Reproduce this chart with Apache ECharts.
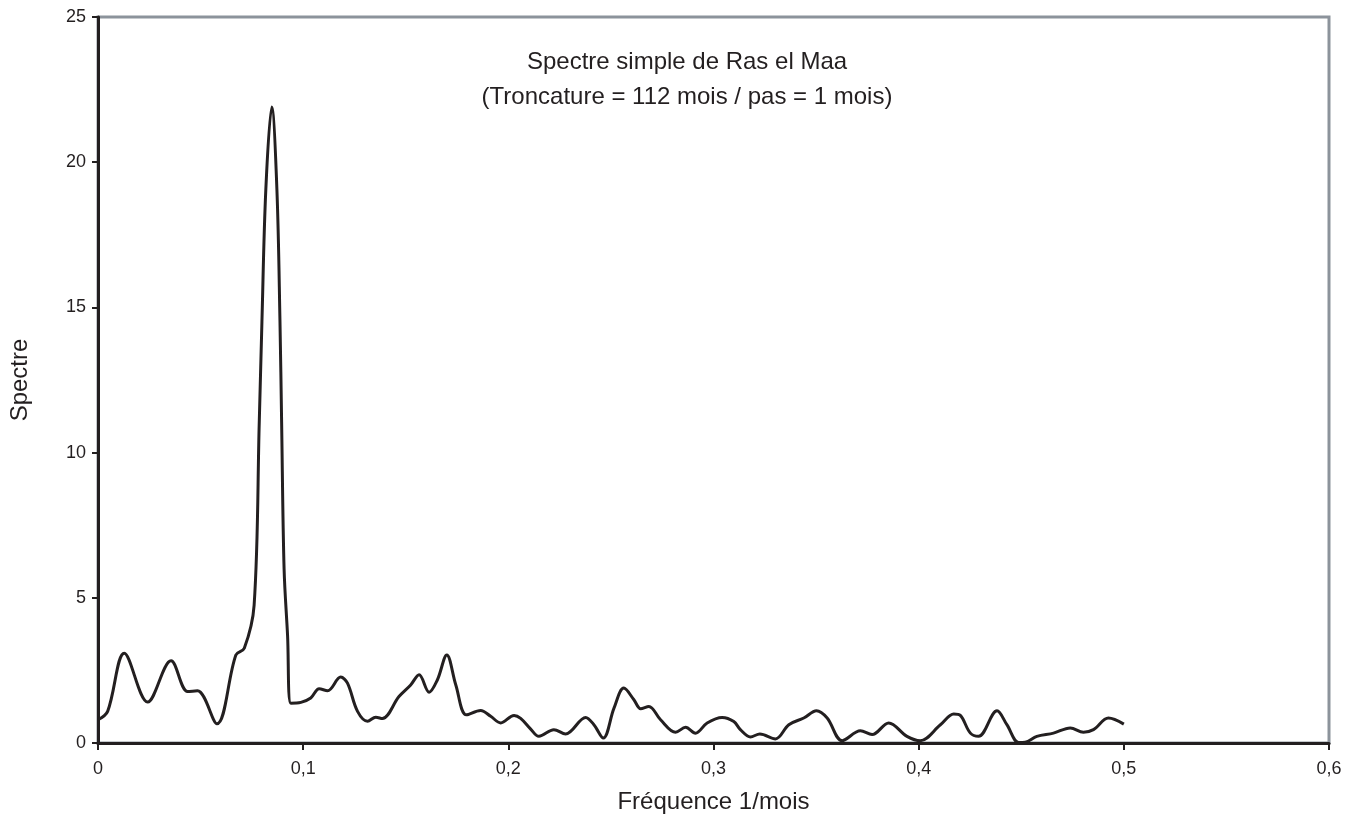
<!DOCTYPE html>
<html>
<head>
<meta charset="utf-8">
<script src="https://cdn.jsdelivr.net/npm/echarts@6/dist/echarts.min.js"></script>
<style>
  html, body { margin: 0; padding: 0; background: #fff; }
  #chart { width: 1345px; height: 819px; }
</style>
</head>
<body>
<div id="chart"></div>
<script>
// fréquence (1/mois) et valeur du spectre
const freq = [0, 0.0047, 0.0128, 0.0242, 0.0356, 0.0437, 0.0485, 0.058, 0.0672, 0.0713,
  0.0761, 0.0786, 0.0799, 0.0818, 0.0847, 0.0872, 0.0887, 0.0895, 0.0907, 0.0924, 0.094,
  0.0989, 0.1037, 0.1078, 0.1119, 0.1183, 0.1216, 0.1265, 0.1314, 0.1354, 0.1386,
  0.1467, 0.1524, 0.1565, 0.1614, 0.1654, 0.170, 0.1744, 0.1796, 0.1865, 0.1914,
  0.1963, 0.2028, 0.206, 0.2109, 0.2149, 0.2222, 0.2279, 0.2377, 0.2417, 0.2463,
  0.2515, 0.2563, 0.2612, 0.2645, 0.2685, 0.2742, 0.2815, 0.2864, 0.2912, 0.2969,
  0.3042, 0.3099, 0.3131, 0.318, 0.3226, 0.3302, 0.3367, 0.344, 0.3502, 0.3554,
  0.3627, 0.3716, 0.3773, 0.3854, 0.3943, 0.4008, 0.4106, 0.4171, 0.4203, 0.4252,
  0.4292, 0.4382, 0.443, 0.4487, 0.4519, 0.4576, 0.4657, 0.4739, 0.4803, 0.4852,
  0.4925, 0.5];
const spectre = [0.80, 1.09, 3.09, 1.41, 2.83, 1.77, 1.80, 0.66, 3.03, 3.26,
  4.75, 11.05, 14.5, 19.06, 21.9, 19.06, 14.5, 11.05, 6.0, 3.7, 1.37,
  1.40, 1.55, 1.87, 1.80, 2.27, 2.06, 1.09, 0.75, 0.89, 0.84,
  1.60, 2.0, 2.35, 1.75, 2.17, 3.03, 2.0, 0.97, 1.12, 0.92,
  0.69, 0.95, 0.85, 0.48, 0.23, 0.46, 0.31, 0.88, 0.63, 0.17,
  1.20, 1.89, 1.49, 1.18, 1.26, 0.80, 0.37, 0.54, 0.34, 0.69,
  0.88, 0.74, 0.46, 0.21, 0.31, 0.14, 0.63, 0.86, 1.11, 0.86,
  0.08, 0.42, 0.29, 0.69, 0.23, 0.08, 0.63, 1.0, 0.95, 0.34,
  0.23, 1.11, 0.63, 0.02, 0.03, 0.23, 0.34, 0.52, 0.37, 0.46,
  0.86, 0.65];

const titleLines = ['Spectre simple de Ras el Maa', '(Troncature = 112 mois / pas = 1 mois)'];
const xName = 'Fréquence 1/mois';
const yName = 'Spectre';

const FONT = '"Liberation Sans", Arial, sans-serif';
const fmtFr = v => (Math.round(v * 10) / 10).toString().replace('.', ',');

const chart = echarts.init(document.getElementById('chart'));
chart.setOption({
  animation: false,
  backgroundColor: '#fff',
  title: {
    text: titleLines.join('\n'),
    left: 682,
    top: 40,
    textAlign: 'center',
    textStyle: {
      fontFamily: FONT,
      fontSize: 24,
      fontWeight: 'normal',
      color: '#231f20',
      lineHeight: 35
    }
  },
  grid: {
    left: 97,
    right: 16,
    top: 17,
    bottom: 74,
    show: true,
    borderColor: '#8c939b',
    borderWidth: 3,
    backgroundColor: '#fff'
  },
  xAxis: {
    type: 'value',
    min: 0,
    max: 0.6,
    interval: 0.1,
    name: xName,
    nameLocation: 'middle',
    nameGap: 47,
    nameTextStyle: { fontFamily: FONT, fontSize: 24, color: '#231f20' },
    splitLine: { show: false },
    axisLine: { onZero: false, lineStyle: { color: '#231f20', width: 3 } },
    axisTick: { show: true, length: 7, lineStyle: { color: '#231f20', width: 2 } },
    axisLabel: {
      formatter: fmtFr,
      fontFamily: FONT,
      fontSize: 18,
      color: '#231f20',
      margin: 17
    }
  },
  yAxis: {
    type: 'value',
    min: 0,
    max: 25,
    interval: 5,
    name: yName,
    nameLocation: 'middle',
    nameGap: 66,
    nameRotate: 90,
    nameTextStyle: { fontFamily: FONT, fontSize: 24, color: '#231f20' },
    splitLine: { show: false },
    axisLine: { show: true, onZero: false, lineStyle: { color: '#231f20', width: 3 } },
    axisTick: { show: true, length: 6, lineStyle: { color: '#231f20', width: 2 } },
    axisLabel: {
      fontFamily: FONT,
      fontSize: 18,
      color: '#231f20',
      margin: 12
    }
  },
  series: [
    {
      type: 'line',
      data: freq.map((f, i) => [f, spectre[i]]),
      smooth: 0.35,
      showSymbol: false,
      lineStyle: { color: '#231f20', width: 3 },
      z: 3
    }
  ]
});
</script>
</body>
</html>
